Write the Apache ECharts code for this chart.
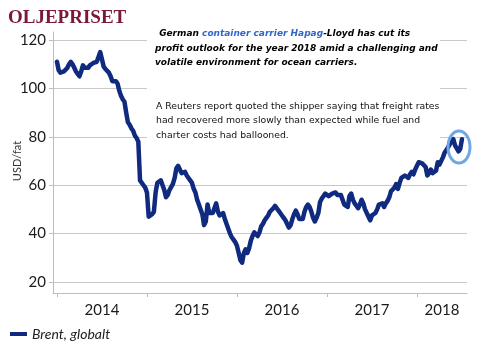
<!DOCTYPE html>
<html>
<head>
<meta charset="utf-8">
<script src="https://cdn.jsdelivr.net/npm/echarts@6/dist/echarts.min.js"></script>
<style>
html,body{margin:0;padding:0;background:#fff;}
#c{width:488px;height:358px;}
</style>
</head>
<body>
<div id="c"></div>
<script>
const years = [2014, 2015, 2016, 2017, 2018];
const brent2014 = [111,107.5,106.5,106,107,106.5,108.5,110,111,110,108.5,107,106,105,107,109.5,108.5,108,108.5,109.5,109,110.5,110,111,113,115,112,109,108,107.5,106.5,105,103,102.5,103,102,99,97,95.5,94.5,90,86,85,83.5,82.5,80.5,79.5,78,62,61.5,60,59];
const brent2015 = [57,47,47.5,48,49,57,61,61.5,62,60,58,55,56,58,57.5,60.5,63,67,68,66.5,65,65.5,65.5,64,63,62,61,58.5,57,54,52,50,48,43.5,45,52,48.5,48,48.5,49,52.5,49,47.5,48,48.5,46,44,42,40,38.5,37.5,36.5];
const brent2016 = [35,32,29,28,32,33.5,32,34,37,39,40.5,40,39,40.5,43,44,45.5,46.5,47.5,49,49.5,50.5,51.5,50.5,49.5,48.5,47.5,46.5,45.5,44,42.5,43.5,46,48,49.5,48,46,45.5,46,49,51,52,51,49,46.5,45,46.5,48.5,53,54.5,55.5,56.5];
const brent2017 = [56,55.5,55.5,56.5,56.5,57,56,56.5,56,55.5,52,51.5,51,55.5,56.5,54,52.5,51.5,50.5,52,54,52.5,50,48.5,47,45.5,47.5,48,48.5,50,52,51.5,52.5,51,52.5,53.5,55,57.5,57,59,60.5,58.5,61,63,62.5,64,63.5,63,64.5,65.5,64.5,66.5];
const brent2018 = [68,69.5,70,69,69.5,67.5,64,65,66.5,65,65.5,66,69.5,68.5,68,71.5,73.5,74.5,74.5,77,78,79,76.5,76.5,74,75,79];
const yearSeries = [brent2014, brent2015, brent2016, brent2017, brent2018];
const yTicks = [20, 40, 60, 80, 100, 120];
const seriesName = 'Brent, globalt';
const titleText = 'OLJEPRISET';
const yAxisName = 'USD/fat';
const note1 = [' German ', 'container carrier Hapag', '-Lloyd has cut its'];
const note2 = 'profit outlook for the year 2018 amid a challenging and';
const note3 = 'volatile environment for ocean carriers.';
const note4 = 'A Reuters report quoted the shipper saying that freight rates';
const note5 = 'had recovered more slowly than expected while fuel and';
const note6 = 'charter costs had ballooned.';
const highlightPoint = [2018.467, 75.8];

const xMin = 2013.956, xMax = 2018.556;
const data = [];
yearSeries.forEach((arr, i) => arr.forEach((v, w) => data.push([years[i] + w / 52, v])));
const labelPos = years.map((y, i) => (y + Math.min(y + 1, xMax)) / 2);

const FONT = 'Lato, "Noto Sans", sans-serif';
const GRID = '#c9c9c9';
const chart = echarts.init(document.getElementById('c'), null, {renderer: 'canvas'});
chart.setOption({
  animation: false,
  backgroundColor: '#fff',
  grid: [
    {left: 53, right: 21, top: 40, bottom: 76, containLabel: false, outerBoundsMode: 'none'},
    {left: 53, right: 21, top: 32, bottom: 65, containLabel: false, outerBoundsMode: 'none'}
  ],
  xAxis: [
    {type: 'value', gridIndex: 0, min: xMin, max: xMax, show: true,
     axisLine: {show: false}, axisTick: {show: false}, axisLabel: {show: false}, splitLine: {show: false}},
    {type: 'value', gridIndex: 1, min: xMin, max: xMax,
     axisLine: {show: true, lineStyle: {color: '#bdbdbd', width: 1}},
     axisTick: {show: true, customValues: years, length: 4, lineStyle: {color: '#bdbdbd'}},
     axisLabel: {show: true, customValues: labelPos, margin: 10, color: '#1a1a1a', fontSize: 15, fontFamily: FONT,
       formatter: v => String(Math.floor(v))},
     splitLine: {show: false}}
  ],
  yAxis: [
    {type: 'value', gridIndex: 0, min: yTicks[0], max: yTicks[yTicks.length - 1], interval: yTicks[1] - yTicks[0],
     name: yAxisName, nameLocation: 'middle', nameGap: 30, nameRotate: 90, nameMoveOverlap: false,
     nameTextStyle: {color: '#333', fontSize: 11, fontFamily: FONT},
     axisLine: {show: false},
     axisTick: {show: true, length: 4, lineStyle: {color: '#bdbdbd'}},
     axisLabel: {margin: 7, color: '#1a1a1a', fontSize: 15, fontFamily: FONT},
     splitLine: {show: true, lineStyle: {color: GRID, width: 1}}},
    {type: 'value', gridIndex: 1, min: 0, max: 1,
     axisLine: {show: true, lineStyle: {color: '#bdbdbd', width: 1}},
     axisTick: {show: false}, axisLabel: {show: false}, splitLine: {show: false}}
  ],
  legend: {
    data: [seriesName], left: 10, top: 327, padding: 0, icon: 'rect', itemWidth: 17, itemHeight: 4,
    textStyle: {fontSize: 14, fontStyle: 'italic', color: '#222', fontFamily: FONT}
  },
  series: [{
    name: seriesName, type: 'line', xAxisIndex: 0, yAxisIndex: 0, data: data,
    showSymbol: false, symbol: 'none', z: 3,
    color: '#0f2a7e',
    lineStyle: {color: '#0f2a7e', width: 4.5, join: 'round', cap: 'round'}
  }]
});

const p = chart.convertToPixel({gridIndex: 0}, highlightPoint);
const bold = '9px "DejaVu Sans"';
chart.setOption({
  graphic: [
    {type: 'text', id: 'title', left: 8, top: 9, z: 60,
     style: {text: titleText, font: 'bold 19px "Liberation Serif", "DejaVu Serif", serif', fill: '#7a1836'}},
    {type: 'rect', id: 'box', shape: {x: 147, y: 18, width: 293, height: 125}, style: {fill: '#fff'}, z: 50, silent: true},
    {type: 'text', id: 'n1', x: 156, y: 33.5, z: 51,
     style: {text: '{k|' + note1[0] + '}{b|' + note1[1] + '}{k|' + note1[2] + '}', verticalAlign: 'middle',
       rich: {k: {fontFamily: 'DejaVu Sans', fontSize: 9, fontWeight: 'bold', fontStyle: 'italic', fill: '#000'},
              b: {fontFamily: 'DejaVu Sans', fontSize: 9, fontWeight: 'bold', fontStyle: 'italic', fill: '#2f66c8'}}}},
    {type: 'text', id: 'n2', x: 155, y: 48.5, z: 51,
     style: {text: note2, verticalAlign: 'middle', font: 'italic bold ' + bold, fill: '#000'}},
    {type: 'text', id: 'n3', x: 155, y: 63, z: 51,
     style: {text: note3, verticalAlign: 'middle', font: 'italic bold ' + bold, fill: '#000'}},
    {type: 'text', id: 'n4', x: 156, y: 106.5, z: 51,
     style: {text: note4, verticalAlign: 'middle', font: '9.3px "DejaVu Sans"', fill: '#111'}},
    {type: 'text', id: 'n5', x: 156, y: 121, z: 51,
     style: {text: note5, verticalAlign: 'middle', font: '9.3px "DejaVu Sans"', fill: '#111'}},
    {type: 'text', id: 'n6', x: 156, y: 135.5, z: 51,
     style: {text: note6, verticalAlign: 'middle', font: '9.3px "DejaVu Sans"', fill: '#111'}},
    {type: 'ellipse', id: 'ring', shape: {cx: p[0], cy: p[1], rx: 11, ry: 16}, z: 55,
     style: {fill: 'none', stroke: '#72a7e6', lineWidth: 3}}
  ]
});
</script>
</body>
</html>
